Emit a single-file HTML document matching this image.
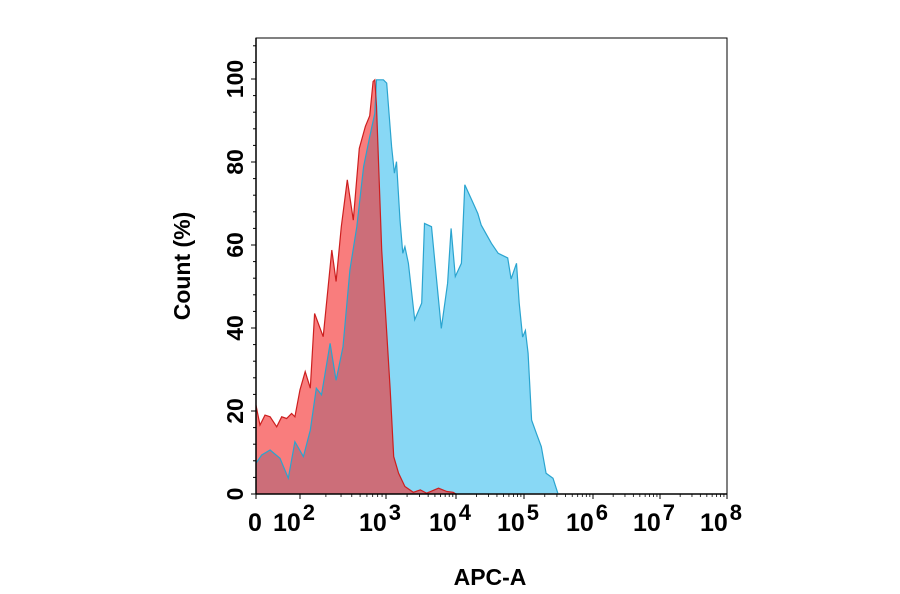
<!DOCTYPE html>
<html><head><meta charset="utf-8"><style>
body{margin:0;background:#fff;}
svg{display:block;font-family:"Liberation Sans",Arial,sans-serif;font-weight:bold;}
</style></head><body>
<svg id="chart" width="900" height="594" xmlns="http://www.w3.org/2000/svg">
<g id="plot"></g>
</svg>
<script>
// data: x in decade coordinates (0 = "0", 2 = 10^2, ... 8 = 10^8), y = count %
const blueX=[0,0.26,0.64,1.09,1.47,1.77,2.04,2.12,2.19,2.25,2.35,2.42,2.50,2.58,2.66,2.74,2.81,2.87,2.89,2.97,3.01,3.08,3.12,3.15,3.20,3.24,3.27,3.32,3.41,3.51,3.55,3.65,3.70,3.79,3.88,3.93,3.99,4.08,4.13,4.25,4.32,4.37,4.52,4.62,4.76,4.81,4.89,4.93,4.98,5.02,5.06,5.11,5.18,5.25,5.32,5.42,5.49,5.56];
const blueY=[7.4,9.4,10.6,8.6,3.8,12.6,9.0,15.4,25.5,23.9,36.3,27.4,35.5,54.0,64.4,78.9,86.1,91.7,99.8,99.8,99,83.7,77.3,80.1,66.0,58.0,59.6,55.6,42.0,46.0,65.2,64.4,55.6,39.9,50.8,64.0,52.4,55.6,74.5,70.2,67.6,64.8,60.4,58.0,56.9,51.8,55.6,46.0,37.8,39.4,33.9,17.8,14.6,11.4,5.0,3.8,0.2];
const redX=[0,0.18,0.41,0.64,0.94,1.17,1.39,1.62,1.77,2.0,2.06,2.12,2.17,2.27,2.37,2.42,2.48,2.55,2.62,2.69,2.76,2.81,2.85,2.87,2.89,2.95,3.06,3.11,3.18,3.27,3.39,3.49,3.58,3.75,3.87,3.96,4.0];
const redY=[21.4,16.6,19.0,18.6,16.2,18.6,18.2,19.4,18.6,25.1,29.5,25.5,43.5,37.9,58.8,51.2,64.4,75.7,66.0,83.3,88.6,91.1,99.4,99.8,93.5,58.8,25.1,9.0,5.0,1.8,0.4,1.0,0.2,1.4,0.6,0.4,0];
const yTicks=[0,20,40,60,80,100];
const xTickPos=[0,2,3,4,5,6,7,8];
const xTickExp=["","2","3","4","5","6","7","8"];

const L=256,R=727,T=38,B=494;
const anchorsD=[0,2,3,4,5,6,7,8], anchorsP=[256,300,386,456,524,593,660,727];
function xs(d){
  if(d<=anchorsD[0])return anchorsP[0];
  for(let i=1;i<anchorsD.length;i++){ if(d<=anchorsD[i]){const t=(d-anchorsD[i-1])/(anchorsD[i]-anchorsD[i-1]);return anchorsP[i-1]+t*(anchorsP[i]-anchorsP[i-1]);} }
  return anchorsP[anchorsP.length-1];
}
function ys(v){return B-v*4.15;}
const NS="http://www.w3.org/2000/svg";
const g=document.getElementById('plot');
function mk(tag,attrs){const e=document.createElementNS(NS,tag);for(const k in attrs)e.setAttribute(k,attrs[k]);g.appendChild(e);return e;}

const fr=mk('rect',{x:L,y:T,width:R-L,height:B-T,fill:'none',stroke:'#000','stroke-width':1});



function pathD(X,Y,close){
  let d='M'+xs(X[0])+','+ys(0)+' ';
  for(let i=0;i<X.length;i++)d+='L'+xs(X[i]).toFixed(1)+','+ys(Y[i]).toFixed(1)+' ';
  d+='L'+xs(X[X.length-1])+','+ys(0)+(close?' Z':'');
  return d;
}
function lineD(X,Y){let d='';for(let i=0;i<X.length;i++)d+=(i?'L':'M')+xs(X[i]).toFixed(1)+','+ys(Y[i]).toFixed(1)+' ';return d;}

const bf=mk('path',{d:pathD(blueX,blueY,true),fill:'#88d8f5',stroke:'none'});


const rf=mk('path',{d:pathD(redX,redY,true),fill:'rgba(245,45,45,0.62)',stroke:'none'});


const bl=mk('path',{d:lineD(blueX,blueY),fill:'none',stroke:'#2aa4cf','stroke-width':1.2});


const rl=mk('path',{d:lineD(redX,redY),fill:'none',stroke:'#cc1f1f','stroke-width':1.2});



const xa=mk('line',{x1:L,y1:B,x2:R,y2:B,stroke:'#000','stroke-width':1.5});


const ya=mk('line',{x1:L,y1:T,x2:L,y2:B,stroke:'#000','stroke-width':1.5});



for(let v=0;v<=110;v+=4){
  const major=v%20===0;
  mk('line',{x1:L-(major?5:3),y1:ys(v),x2:L,y2:ys(v),stroke:'#000','stroke-width':1});
}
yTicks.forEach(v=>{
  const t=mk('text',{x:0,y:0,transform:'translate(243,'+ys(v)+') rotate(-90)','text-anchor':'middle','font-size':23,fill:'#000'});
  t.textContent=String(v);
  
  
});
xTickPos.forEach((d,i)=>{
  mk('line',{x1:xs(d),y1:B,x2:xs(d),y2:B+5,stroke:'#000','stroke-width':1});
  const t=mk('text',{x:xs(d)-(i?6:1),y:531,'text-anchor':'middle','font-size':25,fill:'#000'});
  
  
  if(i===0){t.textContent='0';}
  else{
    t.textContent='10';
    const s=document.createElementNS(NS,'tspan');
    s.setAttribute('dy','-11');s.setAttribute('dx','2');s.setAttribute('font-size','22');
    s.textContent=xTickExp[i];t.appendChild(s);
  }
});
for(let dec=2;dec<8;dec++)for(let k=2;k<10;k++){
  const d=dec+Math.log10(k);
  mk('line',{x1:xs(d),y1:B,x2:xs(d),y2:B+3,stroke:'#000','stroke-width':0.8});
}
const yt=mk('text',{x:0,y:0,transform:'translate(190,266) rotate(-90)','text-anchor':'middle','font-size':23,fill:'#000'});
yt.textContent='Count  (%)';


const xt=mk('text',{x:490,y:585,'text-anchor':'middle','font-size':23,fill:'#000'});
xt.textContent='APC-A';


</script>
</body></html>
